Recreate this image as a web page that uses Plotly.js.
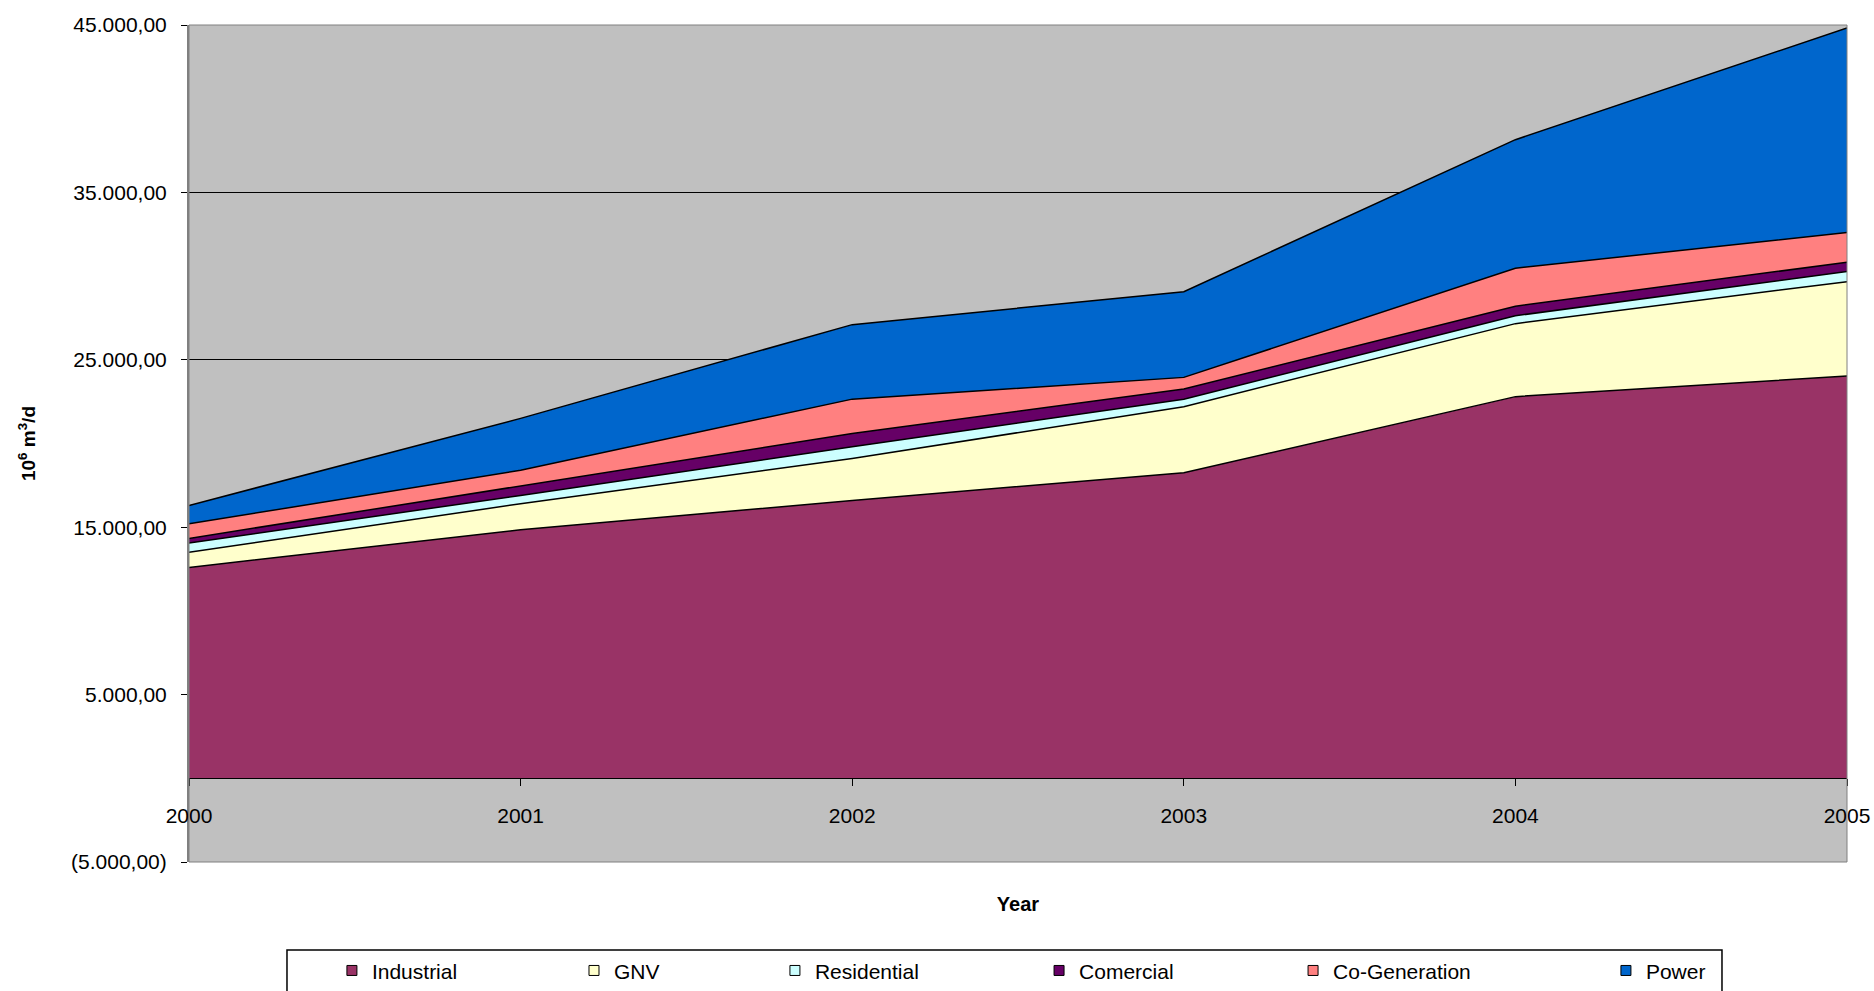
<!DOCTYPE html>
<html>
<head>
<meta charset="utf-8">
<script src="https://cdn.plot.ly/plotly-3.0.1.min.js"></script>
<style>
  html, body { margin: 0; padding: 0; background: #ffffff; }
  #chart { width: 1874px; height: 991px; }
</style>
</head>
<body>
<div id="chart"></div>
<script>
// ---- data (10^6 m3/d) ----
const years = ['2000', '2001', '2002', '2003', '2004', '2005'];
const industrial   = [12600, 14850, 16600, 18250, 22800, 24030];
const gnv          = [900, 1550, 2500, 3950, 4360, 5640];
const residential  = [550, 500, 700, 440, 470, 600];
const comercial    = [280, 550, 800, 620, 570, 560];
const coGeneration = [870, 950, 2050, 690, 2270, 1770];
const power        = [1100, 3100, 4450, 5120, 7680, 12220];
const seriesNames  = ['Industrial', 'GNV', 'Residential', 'Comercial', 'Co-Generation', 'Power'];

// ---- y tick labels ----
const yTickVals   = [-5000, 5000, 15000, 25000, 35000, 45000];
const yTickLabels = ['(5.000,00)', '5.000,00', '15.000,00', '25.000,00', '35.000,00', '45.000,00'];

// ---- styles ----
const seriesColors = ['#993366', '#FFFFCC', '#CCFFFF', '#660066', '#FF8080', '#0066CC'];
const legendXs = [0.0862, 0.2322, 0.3534, 0.5127, 0.6659, 0.8546];
const FONT = 'Liberation Sans, Arial, sans-serif';

const seriesValues = [industrial, gnv, residential, comercial, coGeneration, power];

const traces = [];
seriesValues.forEach((vals, i) => {
  traces.push({
    type: 'scatter',
    mode: 'lines',
    x: years,
    y: vals,
    name: seriesNames[i],
    stackgroup: 'one',
    fillcolor: seriesColors[i],
    line: { color: '#000000', width: 1.5 },
    showlegend: false,
    hoverinfo: 'x+y+name'
  });
});
// legend entries (square markers like the original)
seriesNames.forEach((nm, i) => {
  traces.push({
    type: 'scatter',
    mode: 'markers',
    x: [years[0]],
    y: [null],
    name: nm,
    marker: { symbol: 'square', size: 10, color: seriesColors[i], line: { color: '#000000', width: 1 } },
    showlegend: true,
    legend: i === 0 ? 'legend' : 'legend' + (i + 1),
    hoverinfo: 'skip'
  });
});

const layout = {
  width: 1874,
  height: 991,
  margin: { l: 189, r: 27, t: 25, b: 129, autoexpand: false },
  paper_bgcolor: '#ffffff',
  plot_bgcolor: '#C0C0C0',
  separators: ',.',
  font: { family: FONT, color: '#000000', size: 20 },
  showlegend: true,
  xaxis: {
    type: 'category',
    range: [0, 5],
    anchor: 'free',
    position: 0.1,
    showline: true,
    linecolor: '#000000',
    linewidth: 1,
    showgrid: false,
    zeroline: false,
    ticks: 'outside',
    ticklen: 7,
    tickcolor: '#000000',
    ticklabelstandoff: 11,
    tickfont: { family: FONT, size: 21, color: '#000000' },
    title: { text: '<b>Year</b>', font: { family: FONT, size: 20, color: '#000000' }, standoff: 71 }
  },
  yaxis: {
    range: [-5000, 45000],
    tickmode: 'array',
    tickvals: yTickVals,
    ticktext: yTickLabels,
    showline: true,
    linecolor: '#808080',
    linewidth: 2,
    showgrid: true,
    gridcolor: '#000000',
    gridwidth: 1,
    zeroline: false,
    ticks: 'outside',
    ticklen: 6,
    tickcolor: '#000000',
    ticklabelstandoff: 10,
    tickfont: { family: FONT, size: 21, color: '#000000' },
    title: { text: '<b>10<sup>6</sup> m<sup>3</sup>/d</b>', font: { family: FONT, size: 19, color: '#000000' }, standoff: 30 }
  },
  shapes: [
    { type: 'rect', xref: 'paper', yref: 'paper', x0: 0, x1: 1, y0: 0, y1: 1,
      line: { color: '#808080', width: 1 }, fillcolor: 'rgba(0,0,0,0)', layer: 'above' },
    { type: 'rect', xref: 'paper', yref: 'paper', x0: 0.0591, x1: 0.9246, y0: -0.2, y1: -0.105,
      line: { color: '#000000', width: 1.5 }, fillcolor: 'rgba(0,0,0,0)', layer: 'above' }
  ]
};

legendXs.forEach((lx, i) => {
  const key = i === 0 ? 'legend' : 'legend' + (i + 1);
  layout[key] = {
    x: lx, y: -0.130, xanchor: 'left', yanchor: 'middle',
    orientation: 'h',
    bgcolor: 'rgba(0,0,0,0)', borderwidth: 0,
    font: { family: FONT, size: 21, color: '#000000' }
  };
});

Plotly.newPlot('chart', traces, layout, { displayModeBar: false, staticPlot: true });
</script>
</body>
</html>
